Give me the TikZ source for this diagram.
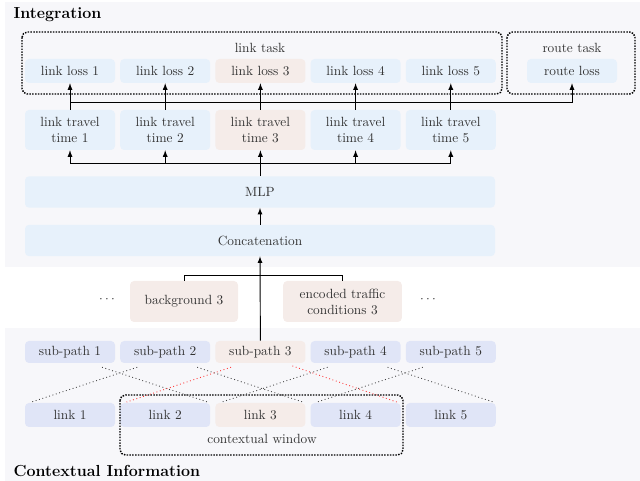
\documentclass[tikz,border=0pt]{standalone}
\usepackage{xcolor}
\usetikzlibrary{positioning}

\definecolor{taskblue}{HTML}{E7F1FB}
\definecolor{focuspink}{HTML}{F5ECE9}
\definecolor{ctxlilac}{HTML}{E0E5F7}
\definecolor{panelgray}{HTML}{F7F7FA}
\definecolor{textgray}{HTML}{333333}

\begin{document}
\begin{tikzpicture}[
    x=0.75pt, y=-0.75pt,
    node distance=71.4pt,
    >=latex,
    every node/.style={text=textgray, align=center},
    box/.style={rectangle, rounded corners=3pt, inner sep=1pt, minimum width=67.5pt},
    loss/.style={box, fill=taskblue, minimum height=18pt},
    ttime/.style={box, fill=taskblue, minimum height=30pt},
    wide/.style={box, fill=taskblue, minimum width=352.5pt, minimum height=23.5pt},
    ctx/.style={box, fill=focuspink, minimum height=30.75pt},
    pathbox/.style={box, fill=ctxlilac, minimum height=16.5pt},
    frame/.style={line width=1.1pt, densely dotted, rounded corners=4pt},
    crossline/.style={dotted, line width=0.65pt, black!75},
    focusline/.style={dotted, line width=0.65pt, red!80},
    link/.style={->, line width=0.7pt}
]
\useasboundingbox (0,0) rectangle (640,481);

% panels
\fill[panelgray] (5,2) rectangle (640,267);
\fill[panelgray] (5,328) rectangle (640,481);

\node[anchor=west, font=\large\bfseries, text=black] (integ) at (9,15) {Integration};
\node[anchor=west, font=\large\bfseries, text=black] (ctxinfo) at (9,471) {Contextual Information};

% tasks
\draw[frame] (22,32) rectangle (502,94);
\draw[frame] (507,32) rectangle (635,94);
\node (linktask) at (260,48) {link task};
\node (routetask) at (572,48) {route task};

\node[loss] (loss1) at (70,71) {link loss 1};
\node[loss] (loss2) [right of=loss1] {link loss 2};
\node[loss, fill=focuspink] (loss3) [right of=loss2] {link loss 3};
\node[loss] (loss4) [right of=loss3] {link loss 4};
\node[loss] (loss5) [right of=loss4] {link loss 5};
\node[loss] (route) at (572,71) {route loss};

\node[ttime] (time1) at (70,130) {link travel\\time 1};
\node[ttime] (time2) [right of=time1] {link travel\\time 2};
\node[ttime, fill=focuspink] (time3) [right of=time2] {link travel\\time 3};
\node[ttime] (time4) [right of=time3] {link travel\\time 4};
\node[ttime] (time5) [right of=time4] {link travel\\time 5};

\node[wide] (mlp) at (260,192) {MLP};
\node[wide] (concat) at (260,240.5) {Concatenation};

% context features
\node[ctx, minimum width=81pt] (bg) at (184,301.5) {background 3};
\node[ctx, minimum width=89pt] (enc) at (342.5,301.5) {encoded traffic\\conditions 3};
\node (dotsl) at (107,300) {$\cdots$};
\node (dotsr) at (428,300) {$\cdots$};

\node[pathbox] (sub1) at (70,352) {sub-path 1};
\node[pathbox] (sub2) [right of=sub1] {sub-path 2};
\node[pathbox, fill=focuspink] (sub3) [right of=sub2] {sub-path 3};
\node[pathbox] (sub4) [right of=sub3] {sub-path 4};
\node[pathbox] (sub5) [right of=sub4] {sub-path 5};

\node[pathbox, minimum height=18pt] (link1) at (70,415) {link 1};
\node[pathbox, minimum height=18pt] (link2) [right of=link1] {link 2};
\node[pathbox, minimum height=18pt, fill=focuspink] (link3) [right of=link2] {link 3};
\node[pathbox, minimum height=18pt] (link4) [right of=link3] {link 4};
\node[pathbox, minimum height=18pt] (link5) [right of=link4] {link 5};

\draw[frame] (120,395) rectangle (403,455);
\node (window) at (262,439) {contextual window};

% buses
\coordinate (busA) at (0,102);
\coordinate (busB) at (0,163);
\coordinate (busC) at (0,275);

\foreach \i in {1,...,5}
    \draw[link] (time\i) -- (loss\i);
\draw[link] (time1.north |- busA) -| (route.south);

\draw[line width=0.7pt] (mlp.north) -- (mlp.north |- busB);
\draw[line width=0.7pt] (time1.south |- busB) -- (time5.south |- busB);
\foreach \i in {1,...,5}
    \draw[link] (time\i.south |- busB) -- (time\i.south);

\draw[link] (concat) -- (mlp);
\draw[link] (sub3.north) -- (concat.south);
\draw[line width=0.7pt] (bg.north) |- (enc.north |- busC) -- (enc.north);

% sub-paths to links
\foreach \i/\j in {1/2, 2/3, 4/5}
    \draw[crossline] ([xshift=24pt, yshift=-3pt]sub\i.south) -- ([xshift=-2pt, yshift=0.5pt]link\j.north east);
\foreach \i/\j in {2/1, 4/3, 5/4}
    \draw[crossline] ([xshift=-21pt, yshift=-3pt]sub\i.south) -- ([xshift=5pt, yshift=0.5pt]link\j.north west);
\draw[focusline] ([xshift=-22pt, yshift=-3pt]sub3.south) -- ([xshift=5pt, yshift=0.5pt]link2.north west);
\draw[focusline] ([xshift=24pt, yshift=-2pt]sub3.south) -- ([xshift=-3pt, yshift=0.5pt]link4.north east);

\end{tikzpicture}
\end{document}
